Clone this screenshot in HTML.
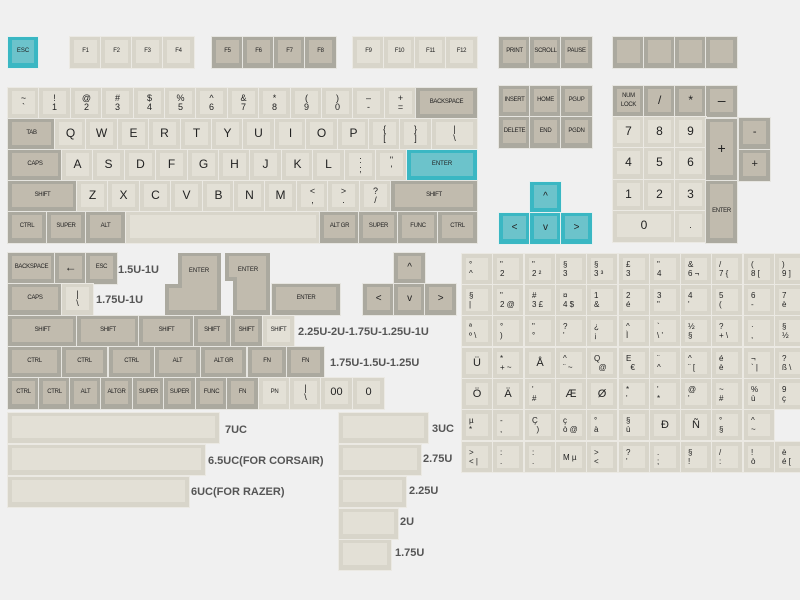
<!DOCTYPE html>
<html><head><meta charset="utf-8"><style>
body{margin:0;width:800px;height:600px;background:#f0f0f0;position:relative;overflow:hidden;font-family:"Liberation Sans",sans-serif;color:#222}
.k,.d,.t{position:absolute;box-sizing:border-box;width:31px;height:31px;border:4px solid #d8d5ca;border-top-width:3px;border-bottom-width:5px;background:#e3e0d6;display:flex;align-items:center;justify-content:center;text-align:center;font-size:9px;line-height:9px;outline:1px solid #ebe9e3}
.d{border-color:#aba99f;background:#c1bbae;font-size:6px;letter-spacing:-0.3px;outline-color:#e6e5e0}
.t{border-color:#3ab7c3;background:#6cc3cb;font-size:6px;outline-color:#e6f0f0}
.L{font-size:12px}
.s{font-size:6px;letter-spacing:-0.3px}
.g{width:30px;height:30px;font-size:8px;line-height:9px;border-width:4px;justify-content:flex-start;padding-left:3px;text-align:left}
.g.L{font-size:11px;justify-content:center;padding:0}
.lb{position:absolute;font-size:11px;font-weight:bold;color:#555;white-space:nowrap}
</style></head><body>
<!-- F row -->
<div class="t" style="left:8px;top:37px;width:30px">ESC</div>
<div class="k s" style="left:70px;top:37px">F1</div><div class="k s" style="left:101px;top:37px">F2</div><div class="k s" style="left:132px;top:37px">F3</div><div class="k s" style="left:163px;top:37px">F4</div>
<div class="d" style="left:212px;top:37px">F5</div><div class="d" style="left:243px;top:37px">F6</div><div class="d" style="left:274px;top:37px">F7</div><div class="d" style="left:305px;top:37px">F8</div>
<div class="k s" style="left:353px;top:37px">F9</div><div class="k s" style="left:384px;top:37px">F10</div><div class="k s" style="left:415px;top:37px">F11</div><div class="k s" style="left:446px;top:37px">F12</div>
<div class="d" style="left:499px;top:37px">PRINT</div><div class="d" style="left:530px;top:37px">SCROLL</div><div class="d" style="left:561px;top:37px">PAUSE</div>
<div class="d" style="left:613px;top:37px"></div><div class="d" style="left:644px;top:37px"></div><div class="d" style="left:675px;top:37px"></div><div class="d" style="left:706px;top:37px"></div>
<!-- number row -->
<div class="k" style="left:8px;top:88px">~<br>`</div><div class="k" style="left:39px;top:88px">!<br>1</div><div class="k" style="left:71px;top:88px">@<br>2</div><div class="k" style="left:102px;top:88px">#<br>3</div><div class="k" style="left:134px;top:88px">$<br>4</div><div class="k" style="left:165px;top:88px">%<br>5</div><div class="k" style="left:196px;top:88px">^<br>6</div><div class="k" style="left:228px;top:88px">&amp;<br>7</div><div class="k" style="left:259px;top:88px">*<br>8</div><div class="k" style="left:291px;top:88px">(<br>9</div><div class="k" style="left:322px;top:88px">)<br>0</div><div class="k" style="left:353px;top:88px">–<br>-</div><div class="k" style="left:385px;top:88px">+<br>=</div>
<div class="d" style="left:416px;top:88px;width:61px">BACKSPACE</div>
<!-- Q row -->
<div class="d" style="left:8px;top:119px;width:47px">TAB</div>
<div class="k L" style="left:55px;top:119px">Q</div><div class="k L" style="left:86px;top:119px">W</div><div class="k L" style="left:118px;top:119px">E</div><div class="k L" style="left:149px;top:119px">R</div><div class="k L" style="left:181px;top:119px">T</div><div class="k L" style="left:212px;top:119px">Y</div><div class="k L" style="left:243px;top:119px">U</div><div class="k L" style="left:275px;top:119px">I</div><div class="k L" style="left:306px;top:119px">O</div><div class="k L" style="left:338px;top:119px">P</div><div class="k" style="left:369px;top:119px">{<br>[</div><div class="k" style="left:400px;top:119px">}<br>]</div><div class="k" style="left:432px;top:119px;width:45px">|<br>\</div>
<!-- A row -->
<div class="d" style="left:8px;top:150px;width:54px">CAPS</div>
<div class="k L" style="left:62px;top:150px">A</div><div class="k L" style="left:93px;top:150px">S</div><div class="k L" style="left:125px;top:150px">D</div><div class="k L" style="left:156px;top:150px">F</div><div class="k L" style="left:188px;top:150px">G</div><div class="k L" style="left:219px;top:150px">H</div><div class="k L" style="left:250px;top:150px">J</div><div class="k L" style="left:282px;top:150px">K</div><div class="k L" style="left:313px;top:150px">L</div><div class="k" style="left:345px;top:150px">:<br>;</div><div class="k" style="left:376px;top:150px">"<br>'</div>
<div class="t" style="left:407px;top:150px;width:70px">ENTER</div>
<!-- Z row -->
<div class="d" style="left:8px;top:181px;width:69px">SHIFT</div>
<div class="k L" style="left:77px;top:181px">Z</div><div class="k L" style="left:108px;top:181px">X</div><div class="k L" style="left:140px;top:181px">C</div><div class="k L" style="left:171px;top:181px">V</div><div class="k L" style="left:203px;top:181px">B</div><div class="k L" style="left:234px;top:181px">N</div><div class="k L" style="left:265px;top:181px">M</div><div class="k" style="left:297px;top:181px">&lt;<br>,</div><div class="k" style="left:328px;top:181px">&gt;<br>.</div><div class="k" style="left:360px;top:181px">?<br>/</div>
<div class="d" style="left:391px;top:181px;width:86px">SHIFT</div>
<!-- bottom -->
<div class="d" style="left:8px;top:212px;width:38px">CTRL</div><div class="d" style="left:47px;top:212px;width:38px">SUPER</div><div class="d" style="left:86px;top:212px;width:39px">ALT</div>
<div class="k" style="left:126px;top:212px;width:194px"></div>
<div class="d" style="left:320px;top:212px;width:39px">ALT GR</div><div class="d" style="left:359px;top:212px;width:39px">SUPER</div><div class="d" style="left:398px;top:212px;width:40px">FUNC</div><div class="d" style="left:438px;top:212px;width:39px">CTRL</div>
<!-- nav -->
<div class="d" style="left:499px;top:86px">INSERT</div><div class="d" style="left:530px;top:86px">HOME</div><div class="d" style="left:561px;top:86px">PGUP</div>
<div class="d" style="left:499px;top:117px">DELETE</div><div class="d" style="left:530px;top:117px">END</div><div class="d" style="left:561px;top:117px">PGDN</div>
<div class="t" style="left:530px;top:182px;font-size:10px">^</div>
<div class="t" style="left:499px;top:213px;font-size:10px">&lt;</div><div class="t" style="left:530px;top:213px;font-size:10px">v</div><div class="t" style="left:561px;top:213px;font-size:10px">&gt;</div>
<!-- numpad -->
<div class="d" style="left:613px;top:86px">NUM<br>LOCK</div><div class="d L" style="left:644px;top:86px;font-size:12px">/</div><div class="d" style="left:675px;top:86px;font-size:12px">*</div><div class="d" style="left:706px;top:86px;font-size:14px">–</div>
<div class="k L" style="left:613px;top:117px">7</div><div class="k L" style="left:644px;top:117px">8</div><div class="k L" style="left:675px;top:117px">9</div>
<div class="k L" style="left:613px;top:148px">4</div><div class="k L" style="left:644px;top:148px">5</div><div class="k L" style="left:675px;top:148px">6</div>
<div class="k L" style="left:613px;top:180px">1</div><div class="k L" style="left:644px;top:180px">2</div><div class="k L" style="left:675px;top:180px">3</div>
<div class="k L" style="left:613px;top:211px;width:62px">0</div><div class="k" style="left:675px;top:211px">.</div>
<div class="d" style="left:706px;top:119px;height:61px;font-size:14px">+</div>
<div class="d" style="left:706px;top:181px;height:62px">ENTER</div>
<div class="d" style="left:739px;top:118px;font-size:11px">-</div><div class="d" style="left:739px;top:150px;font-size:11px">+</div>
<!-- section 2 -->
<div class="d" style="left:8px;top:253px;width:47px">BACKSPACE</div><div class="d" style="left:55px;top:253px;font-size:12px">←</div><div class="d" style="left:86px;top:253px">ESC</div>
<div class="lb" style="left:118px;top:264px">1.5U-1U</div>
<div class="d" style="left:8px;top:284px;width:54px">CAPS</div><div class="k" style="left:62px;top:284px">|<br>\</div>
<div class="lb" style="left:96px;top:294px">1.75U-1U</div>
<svg style="position:absolute;left:0;top:0" width="800" height="600">
<polygon points="178,253 221,253 221,315 165,315 165,284 178,284" fill="#aba99f"/>
<polygon points="182,256 217,256 217,310 169,310 169,288 182,288" fill="#c1bbae"/>
<text x="199" y="272" font-size="6" text-anchor="middle" font-family="Liberation Sans" fill="#222">ENTER</text>
<polygon points="225,253 270,253 270,315 233,315 233,281 225,281" fill="#aba99f"/>
<polygon points="229,256 266,256 266,310 237,310 237,277 229,277" fill="#c1bbae"/>
<text x="248" y="271" font-size="6" text-anchor="middle" font-family="Liberation Sans" fill="#222">ENTER</text>
</svg>
<div class="d" style="left:272px;top:284px;width:68px">ENTER</div>
<div class="d" style="left:394px;top:253px;font-size:10px">^</div>
<div class="d" style="left:363px;top:284px;font-size:10px">&lt;</div><div class="d" style="left:394px;top:284px;font-size:10px">v</div><div class="d" style="left:425px;top:284px;font-size:10px">&gt;</div>
<div class="d" style="left:8px;top:316px;width:69px">SHIFT</div><div class="d" style="left:77px;top:316px;width:62px">SHIFT</div><div class="d" style="left:139px;top:316px;width:55px">SHIFT</div><div class="d" style="left:194px;top:316px;width:36px">SHIFT</div><div class="d" style="left:231px;top:316px">SHIFT</div><div class="k s" style="left:263px;top:316px">SHIFT</div>
<div class="lb" style="left:298px;top:326px">2.25U-2U-1.75U-1.25U-1U</div>
<div class="d" style="left:8px;top:347px;width:53px">CTRL</div><div class="d" style="left:62px;top:347px;width:45px">CTRL</div><div class="d" style="left:109px;top:347px;width:45px">CTRL</div><div class="d" style="left:155px;top:347px;width:45px">ALT</div><div class="d" style="left:201px;top:347px;width:45px">ALT GR</div><div class="d" style="left:248px;top:347px;width:38px">FN</div><div class="d" style="left:287px;top:347px;width:37px">FN</div>
<div class="lb" style="left:330px;top:357px">1.75U-1.5U-1.25U</div>
<div class="d" style="left:8px;top:378px">CTRL</div><div class="d" style="left:39px;top:378px">CTRL</div><div class="d" style="left:70px;top:378px">ALT</div><div class="d" style="left:101px;top:378px">ALTGR</div><div class="d" style="left:133px;top:378px">SUPER</div><div class="d" style="left:164px;top:378px">SUPER</div><div class="d" style="left:196px;top:378px">FUNC</div><div class="d" style="left:227px;top:378px">FN</div>
<div class="k s" style="left:259px;top:378px">PN</div><div class="k" style="left:290px;top:378px">|<br>\</div><div class="k L" style="left:321px;top:378px;font-size:11px">00</div><div class="k L" style="left:353px;top:378px;font-size:11px">0</div>
<!-- spacebars -->
<div class="k" style="left:8px;top:413px;width:211px;height:30px"></div><div class="lb" style="left:225px;top:424px">7UC</div>
<div class="k" style="left:8px;top:445px;width:197px;height:30px"></div><div class="lb" style="left:208px;top:455px">6.5UC(FOR CORSAIR)</div>
<div class="k" style="left:8px;top:477px;width:181px;height:30px"></div><div class="lb" style="left:191px;top:486px">6UC(FOR RAZER)</div>
<div class="k" style="left:339px;top:413px;width:89px;height:30px"></div><div class="lb" style="left:432px;top:423px">3UC</div>
<div class="k" style="left:339px;top:445px;width:82px;height:30px"></div><div class="lb" style="left:423px;top:453px">2.75U</div>
<div class="k" style="left:339px;top:477px;width:67px;height:30px"></div><div class="lb" style="left:409px;top:485px">2.25U</div>
<div class="k" style="left:339px;top:509px;width:59px;height:30px"></div><div class="lb" style="left:400px;top:516px">2U</div>
<div class="k" style="left:339px;top:540px;width:52px;height:30px"></div><div class="lb" style="left:395px;top:547px">1.75U</div>
<!-- intl grid -->
<div class="k g" style="left:462px;top:254px">°<br>^</div><div class="k g" style="left:493px;top:254px">"<br>2</div><div class="k g" style="left:525px;top:254px">"<br>2 ²</div><div class="k g" style="left:556px;top:254px">§<br>3</div><div class="k g" style="left:587px;top:254px">§<br>3 ³</div><div class="k g" style="left:619px;top:254px">£<br>3</div><div class="k g" style="left:650px;top:254px">"<br>4</div><div class="k g" style="left:681px;top:254px">&amp;<br>6 ¬</div><div class="k g" style="left:712px;top:254px">/<br>7 {</div><div class="k g" style="left:744px;top:254px">(<br>8 [</div><div class="k g" style="left:775px;top:254px">)<br>9 ]</div>
<div class="k g" style="left:462px;top:285px">§<br>|</div><div class="k g" style="left:493px;top:285px">"<br>2 @</div><div class="k g" style="left:525px;top:285px">#<br>3 £</div><div class="k g" style="left:556px;top:285px">¤<br>4 $</div><div class="k g" style="left:587px;top:285px">1<br>&amp;</div><div class="k g" style="left:619px;top:285px">2<br>é</div><div class="k g" style="left:650px;top:285px">3<br>"</div><div class="k g" style="left:681px;top:285px">4<br>'</div><div class="k g" style="left:712px;top:285px">5<br>(</div><div class="k g" style="left:744px;top:285px">6<br>-</div><div class="k g" style="left:775px;top:285px">7<br>è</div>
<div class="k g" style="left:462px;top:316px">ª<br>º \</div><div class="k g" style="left:493px;top:316px">°<br>)</div><div class="k g" style="left:525px;top:316px">"<br>°</div><div class="k g" style="left:556px;top:316px">?<br>'</div><div class="k g" style="left:587px;top:316px">¿<br>¡</div><div class="k g" style="left:619px;top:316px">^<br>Ì</div><div class="k g" style="left:650px;top:316px">`<br>\ '</div><div class="k g" style="left:681px;top:316px">½<br>§</div><div class="k g" style="left:712px;top:316px">?<br>+ \</div><div class="k g" style="left:744px;top:316px">·<br>,</div><div class="k g" style="left:775px;top:316px">§<br>½</div>
<div class="k g L" style="left:462px;top:348px">Ü</div><div class="k g" style="left:493px;top:348px">*<br>+ ~</div><div class="k g L" style="left:525px;top:348px">Å</div><div class="k g" style="left:556px;top:348px">^<br>¨ ~</div><div class="k g" style="left:587px;top:348px">Q<br>&nbsp;&nbsp;@</div><div class="k g" style="left:619px;top:348px">E<br>&nbsp;&nbsp;€</div><div class="k g" style="left:650px;top:348px">¨<br>^</div><div class="k g" style="left:681px;top:348px">^<br>¨ [</div><div class="k g" style="left:712px;top:348px">é<br>è</div><div class="k g" style="left:744px;top:348px">¬<br>` |</div><div class="k g" style="left:775px;top:348px">?<br>ß \</div>
<div class="k g L" style="left:462px;top:379px">Ö</div><div class="k g L" style="left:493px;top:379px">Ä</div><div class="k g" style="left:525px;top:379px">'<br>#</div><div class="k g L" style="left:556px;top:379px">Æ</div><div class="k g L" style="left:587px;top:379px">Ø</div><div class="k g" style="left:619px;top:379px">*<br>'</div><div class="k g" style="left:650px;top:379px">'<br>*</div><div class="k g" style="left:681px;top:379px">@<br>'</div><div class="k g" style="left:712px;top:379px">~<br>#</div><div class="k g" style="left:744px;top:379px">%<br>ù</div><div class="k g" style="left:775px;top:379px">9<br>ç</div>
<div class="k g" style="left:462px;top:410px">µ<br>*</div><div class="k g" style="left:493px;top:410px">-<br>,</div><div class="k g" style="left:525px;top:410px">Ç<br>&nbsp;&nbsp;)</div><div class="k g" style="left:556px;top:410px">ç<br>ò @</div><div class="k g" style="left:587px;top:410px">°<br>à</div><div class="k g" style="left:619px;top:410px">§<br>ù</div><div class="k g L" style="left:650px;top:410px">Đ</div><div class="k g L" style="left:681px;top:410px">Ñ</div><div class="k g" style="left:712px;top:410px">°<br>§</div><div class="k g" style="left:744px;top:410px">^<br>~</div>
<div class="k g" style="left:462px;top:442px">&gt;<br>&lt; |</div><div class="k g" style="left:493px;top:442px">:<br>.</div><div class="k g" style="left:525px;top:442px">:<br>.</div><div class="k g" style="left:556px;top:442px">M µ</div><div class="k g" style="left:587px;top:442px">&gt;<br>&lt;</div><div class="k g" style="left:619px;top:442px">?<br>'</div><div class="k g" style="left:650px;top:442px">.<br>;</div><div class="k g" style="left:681px;top:442px">§<br>!</div><div class="k g" style="left:712px;top:442px">/<br>:</div><div class="k g" style="left:744px;top:442px">!<br>ò</div><div class="k g" style="left:775px;top:442px">è<br>é [</div>
</body></html>
